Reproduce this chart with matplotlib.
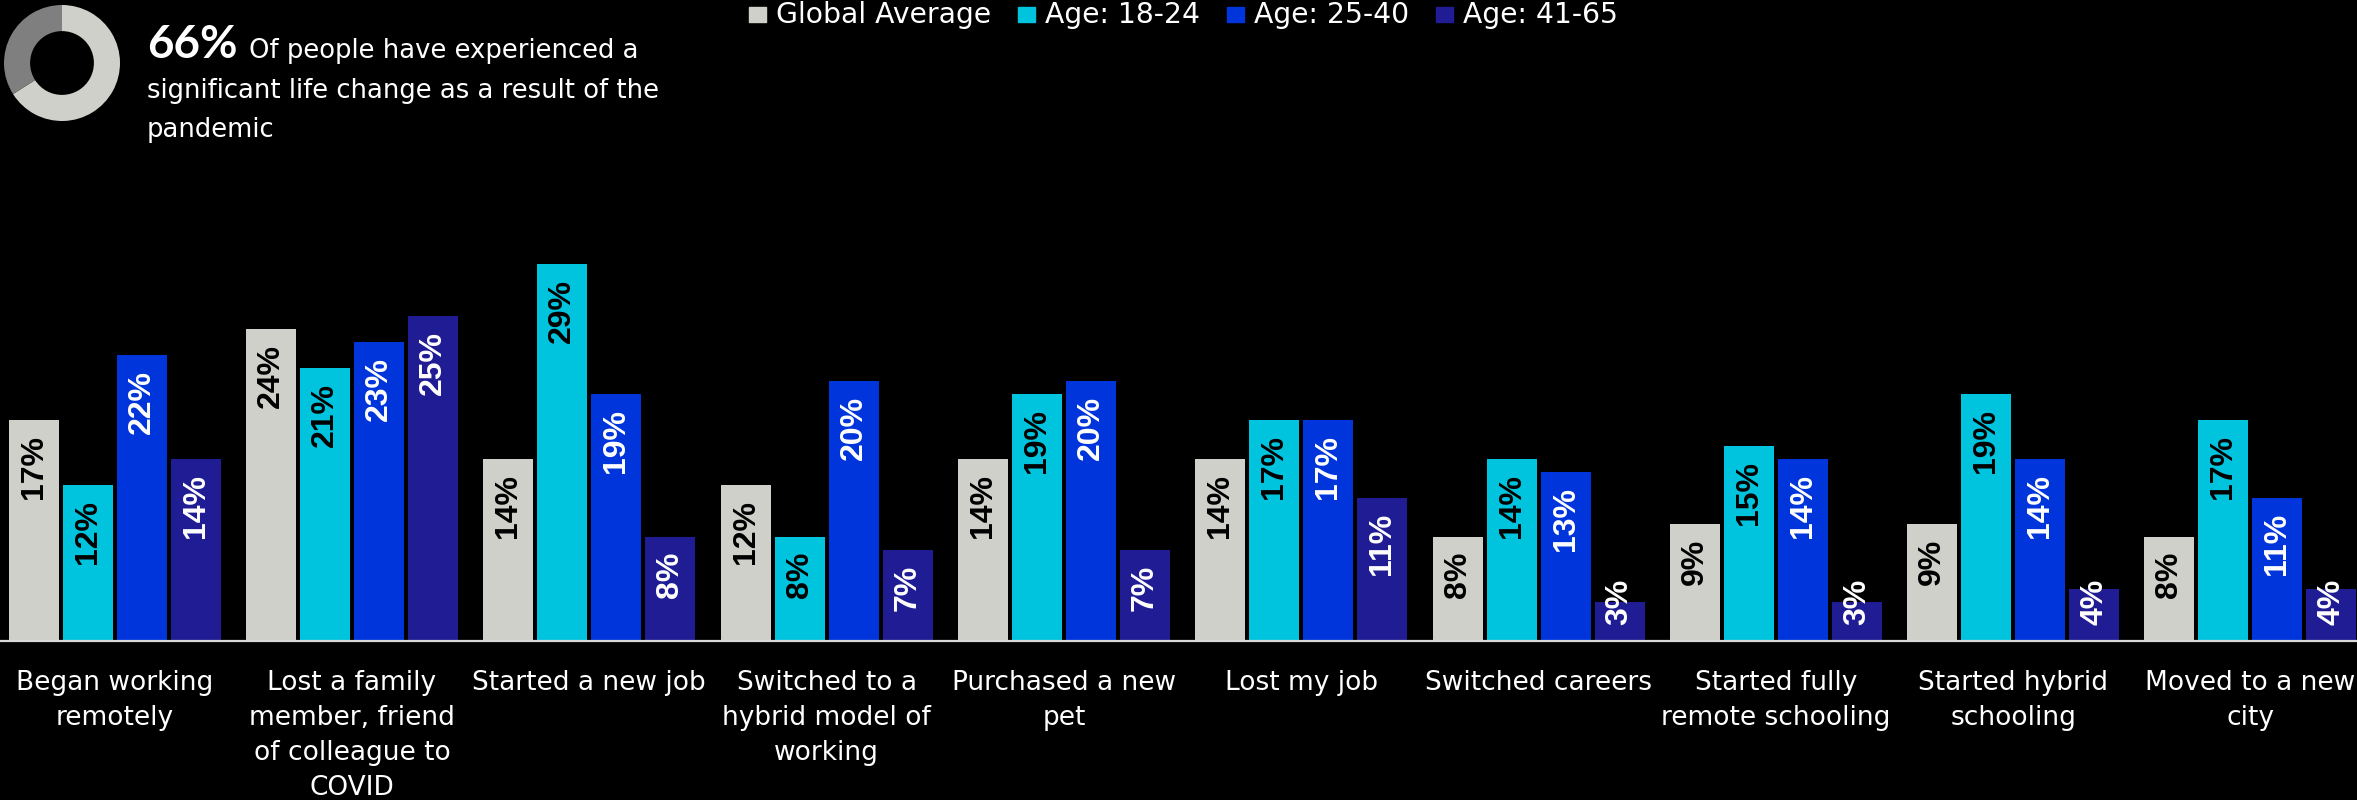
import matplotlib
matplotlib.use("Agg")
import matplotlib.pyplot as plt
import numpy as np
from matplotlib.patches import Rectangle

W, H, DPI = 2357, 800, 100

CATEGORIES = [
    "Began working\nremotely",
    "Lost a family\nmember, friend\nof colleague to\nCOVID",
    "Started a new job",
    "Switched to a\nhybrid model of\nworking",
    "Purchased a new\npet",
    "Lost my job",
    "Switched careers",
    "Started fully\nremote schooling",
    "Started hybrid\nschooling",
    "Moved to a new\ncity",
]
SERIES = ["Global Average", "Age: 18-24", "Age: 25-40", "Age: 41-65"]
GLOBAL_AVG = [17, 24, 14, 12, 14, 14, 8, 9, 9, 8]
AGE_18_24 = [12, 21, 29, 8, 19, 17, 14, 15, 19, 17]
AGE_25_40 = [22, 23, 19, 20, 20, 17, 13, 14, 14, 11]
AGE_41_65 = [14, 25, 8, 7, 7, 11, 3, 3, 4, 4]
DONUT = [66, 34]

COLORS = ["#D0D0CB", "#00C3DE", "#0035DB", "#1F1C94"]
LABEL_COLORS = ["black", "black", "white", "white"]
FONT = "DejaVu Sans"
PX_PER_PT = 13  # bar height in pixels per percentage point


def fx(px):
    return px / W


def fy(py):
    return 1 - py / H


fig = plt.figure(figsize=(W / DPI, H / DPI), dpi=DPI, facecolor="black")
renderer = fig.canvas.get_renderer()

# main bar axes: baseline at y=641px
ax = fig.add_axes([0, fy(641), 1, 30 * PX_PER_PT / H])
ax.set_facecolor("black")
ax.set_xlim(-114.7 / 237.3, (W - 114.7) / 237.3)
ax.set_ylim(0, 30)
x = np.arange(len(CATEGORIES))
step, width = 54 / 237.3, 50 / 237.3
for j, vals in enumerate([GLOBAL_AVG, AGE_18_24, AGE_25_40, AGE_41_65]):
    pos = x + (j - 1.5) * step
    bars = ax.bar(pos, vals, width=width, color=COLORS[j], zorder=2)
    for b, v in zip(bars, vals):
        t = ax.text(b.get_x() + b.get_width() / 2, v - 15 / PX_PER_PT, f"{v}%",
                    rotation=90, ha="center", va="top", fontsize=23,
                    fontweight="bold", family="Liberation Sans",
                    color=LABEL_COLORS[j], zorder=4)
        # short bars: keep the label clear of the baseline
        bb = t.get_window_extent(renderer)
        base = ax.transData.transform((0, 0))[1]
        if bb.y0 < base + 16:
            t.set_y(16 / PX_PER_PT)
            t.set_va("bottom")
ax.axhline(0, color="#DADADA", lw=1.6, zorder=3, clip_on=False)
for s in ax.spines.values():
    s.set_visible(False)
ax.set_yticks([])
ax.set_xticks(x)
ax.set_xticklabels(CATEGORIES, family=FONT, fontsize=19, color="white",
                   linespacing=1.45)
ax.tick_params(axis="x", length=0, pad=21)

# donut in the top-left corner
dax = fig.add_axes([fx(4), fy(121), 116 / W, 116 / H])
dax.pie(DONUT, colors=["#D0D0CB", "#7F7F7F"], startangle=90, counterclock=False,
        wedgeprops=dict(width=0.45, linewidth=0))
dax.set_xlim(-1, 1)
dax.set_ylim(-1, 1)
dax.set_aspect("equal")

fig.text(fx(147), fy(58), f"{DONUT[0]}%", family="Lato", fontweight="bold",
         fontsize=33, color="white", va="baseline")
fig.text(fx(249), fy(58), "Of people have experienced a", family=FONT,
         fontsize=18.6, color="white", va="baseline")
fig.text(fx(147), fy(98), "significant life change as a result of the", family=FONT,
         fontsize=18.6, color="white", va="baseline")
fig.text(fx(147), fy(137), "pandemic", family=FONT,
         fontsize=18.6, color="white", va="baseline")

# legend along the top
sq_left = [749, 1018, 1227, 1436]
for left, name, c in zip(sq_left, SERIES, COLORS):
    fig.patches.append(Rectangle((fx(left), fy(22)), 17 / W, 15 / H,
                                 transform=fig.transFigure, color=c))
    fig.text(fx(left + 27), fy(23), name, family=FONT, fontsize=20.3,
             color="white", va="baseline")

fig.savefig("out.png", dpi=DPI, facecolor="black")
